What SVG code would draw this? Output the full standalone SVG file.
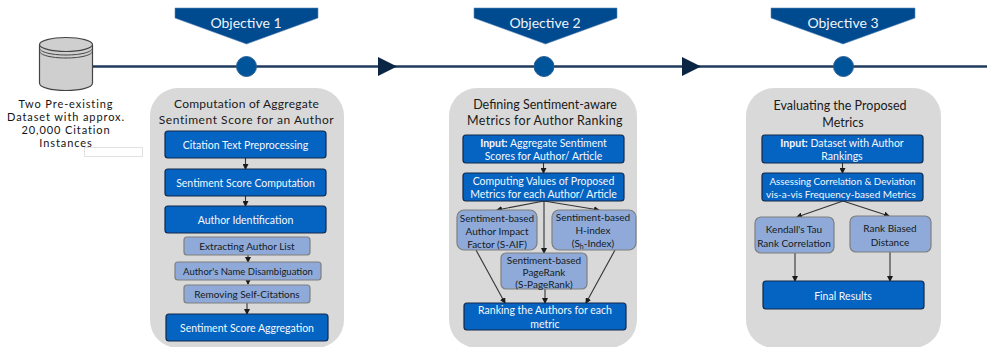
<svg xmlns="http://www.w3.org/2000/svg" width="987" height="347" viewBox="0 0 987 347">
<style>
text{font-family:"Lato","Open Sans","DejaVu Sans",sans-serif;text-anchor:middle}
.panel{fill:#d9d9d9}
.ptitle{font-size:12.500px;fill:#1a1a1a}
.main{fill:#0563c1;stroke:#12294a;stroke-width:1.200}
.sub{fill:#8faad8;stroke:#7f7f7f;stroke-width:1.200}
.mt{font-size:10.500px;fill:#f4f8ff}
.st{font-size:10px;fill:#141a24}
.ds{font-size:11px;letter-spacing:.9px;fill:#141414}
.obj{fill:#004a8f;stroke:#5a86b5;stroke-width:.6}
.objt{font-size:14px;fill:#eef4fb}
.dot{fill:#00549a;stroke:#2b5f94;stroke-width:1}
.tl{stroke:#1f3b5c;stroke-width:2.400;fill:none}
.tri{fill:#0b2545}
.c{stroke:#333;stroke-width:1.100;fill:none;marker-end:url(#a)}
</style>
<defs>
<marker id="a" markerUnits="userSpaceOnUse" markerWidth="6" markerHeight="6" refX="5" refY="3" orient="auto"><path d="M0 0L6 3L0 6Z" fill="#1a1a1a"/></marker>
</defs>
<g id="timeline">
<line class="tl" x1="93" y1="66.500" x2="987" y2="66.500"/>
<path class="tri" d="M378 57L397 66.500L378 76Z"/>
<path class="tri" d="M682 57L701 66.500L682 76Z"/>
</g>
<g id="dataset">
<path d="M39.500 45V83C39.500 87.500 51 90.500 66 90.500S92.500 87.500 92.500 83V45" fill="#cfcfcf" stroke="#444" stroke-width="1.200"/>
<ellipse cx="66" cy="44.500" rx="26.500" ry="7" fill="#cfcfcf" stroke="#444" stroke-width="1.200"/>
<path d="M39.500 48C39.500 52 51 55 66 55S92.500 52 92.500 48M39.500 51C39.500 55 51 58 66 58S92.500 55 92.500 51" fill="none" stroke="#444" stroke-width="1"/>
<text class="ds" x="66" y="108">Two Pre-existing</text>
<text class="ds" x="66" y="121">Dataset with approx.</text>
<text class="ds" x="66" y="134">20,000 Citation</text>
<text class="ds" x="66" y="147">Instances</text>
<rect x="84.500" y="147.500" width="58" height="9" fill="none" stroke="#e2e2e2" stroke-width="1"/>
</g>
<g id="objective1"><path class="obj" d="M175 8H318V18L246.500 44L175 18Z"/><text class="objt" x="246" y="28">Objective 1</text><circle class="dot" cx="246.500" cy="66.500" r="10"/></g>
<g id="objective2"><path class="obj" d="M474 8H617V18L545.500 44L474 18Z"/><text class="objt" x="545" y="28">Objective 2</text><circle class="dot" cx="544" cy="66.500" r="10"/></g>
<g id="objective3"><path class="obj" d="M771 8H915V18L843 44L771 18Z"/><text class="objt" x="843" y="28">Objective 3</text><circle class="dot" cx="843.500" cy="66.500" r="10"/></g>
<g id="panel1"><rect class="panel" x="150" y="88" width="194" height="260" rx="28"/><text class="ptitle" style="font-size:12px;letter-spacing:.25px" x="246.500" y="108">Computation of Aggregate</text><text class="ptitle" style="font-size:12px;letter-spacing:.55px" x="246.500" y="124">Sentiment Score for an Author</text></g>
<g id="panel2"><rect class="panel" x="449" y="88" width="188" height="260" rx="28"/><text class="ptitle" x="545" y="109">Defining Sentiment-aware</text><text class="ptitle" style="font-size:12.500px;letter-spacing:.3px" x="545" y="125">Metrics for Author Ranking</text></g>
<g id="panel3"><rect class="panel" x="746" y="88" width="195" height="260" rx="28"/><text class="ptitle" x="840" y="110">Evaluating the Proposed</text><text class="ptitle" x="843" y="127">Metrics</text></g>
<g id="connectors">
<path class="c" d="M245.500 158V169"/><path class="c" d="M245.500 196V206"/><path class="c" d="M248 255V262"/><path class="c" d="M248 280V284"/><path class="c" d="M247 303V314"/>
<path class="c" d="M543.500 163V173"/><path class="c" d="M544 201L497 210"/><path class="c" d="M544 201L599 210"/><path class="c" d="M544 201V253"/><path class="c" d="M476 250L505 303"/><path class="c" d="M545 289V303"/><path class="c" d="M615 250L586 303"/>
<path class="c" d="M842.500 163V173"/><path class="c" d="M843 201L797 217"/><path class="c" d="M843 201L889 216"/><path class="c" d="M795 253V281"/><path class="c" d="M890 252V281"/>
</g>
<g id="n1"><rect class="main" x="165" y="131" width="161" height="27" rx="3"/><text class="mt" x="245.500" y="149">Citation Text Preprocessing</text></g>
<g id="n2"><rect class="main" x="165" y="169" width="161" height="27" rx="3"/><text class="mt" x="245.500" y="187">Sentiment Score Computation</text></g>
<g id="n3"><rect class="main" x="165" y="206" width="161" height="27" rx="3"/><text class="mt" x="245.500" y="224">Author Identification</text></g>
<g id="n4"><rect class="sub" x="184" y="237" width="126" height="18" rx="3"/><text class="st" x="247" y="250">Extracting Author List</text></g>
<g id="n5"><rect class="sub" x="175" y="262" width="146" height="18" rx="3"/><text class="st" style="font-size:9.500px" x="248" y="275">Author's Name Disambiguation</text></g>
<g id="n6"><rect class="sub" x="184" y="285" width="126" height="18" rx="3"/><text class="st" x="247" y="298">Removing Self-Citations</text></g>
<g id="n7"><rect class="main" x="166" y="314" width="162" height="27" rx="3"/><text class="mt" x="247" y="332">Sentiment Score Aggregation</text></g>
<g id="m1"><rect class="main" x="463" y="135" width="161" height="28" rx="3"/><text class="mt" x="543.500" y="147"><tspan font-weight="700">Input:</tspan> Aggregate Sentiment</text><text class="mt" x="543.500" y="160">Scores for Author/ Article</text></g>
<g id="m2"><rect class="main" x="463" y="173" width="161" height="28" rx="3"/><text class="mt" x="543.500" y="185">Computing Values of Proposed</text><text class="mt" x="543.500" y="198">Metrics for each Author/ Article</text></g>
<g id="m3"><rect class="sub" x="457" y="210" width="80" height="40" rx="7"/><text class="st" x="497" y="222">Sentiment-based</text><text class="st" x="497" y="235">Author Impact</text><text class="st" x="497" y="248">Factor (S-AIF)</text></g>
<g id="m4"><rect class="sub" x="552" y="210" width="84" height="40" rx="7"/><text class="st" x="593" y="221">Sentiment-based</text><text class="st" x="593" y="234">H-index</text><text class="st" x="593" y="247">(S<tspan font-size="7" dy="2">h</tspan><tspan dy="-2">-Index)</tspan></text></g>
<g id="m5"><rect class="sub" x="501" y="253" width="86" height="36" rx="5"/><text class="st" x="544" y="264">Sentiment-based</text><text class="st" x="544" y="276">PageRank</text><text class="st" x="544" y="288">(S-PageRank)</text></g>
<g id="m6"><rect class="main" x="464" y="303" width="162" height="27" rx="3"/><text class="mt" x="545" y="314">Ranking the Authors for each</text><text class="mt" x="545" y="328">metric</text></g>
<g id="e1"><rect class="main" x="762" y="135" width="161" height="28" rx="3"/><text class="mt" x="842" y="147"><tspan font-weight="700">Input:</tspan> Dataset with Author</text><text class="mt" x="842" y="160">Rankings</text></g>
<g id="e2"><rect class="main" x="762" y="173" width="161" height="28" rx="3"/><text class="mt" style="font-size:9.800px" x="842.500" y="185">Assessing Correlation &amp; Deviation</text><text class="mt" style="font-size:10px" x="841" y="198">vis-a-vis Frequency-based Metrics</text></g>
<g id="e3"><rect class="sub" x="755" y="217" width="79" height="36" rx="6"/><text class="st" x="794" y="233">Kendall's Tau</text><text class="st" x="794" y="247">Rank Correlation</text></g>
<g id="e4"><rect class="sub" x="850" y="216" width="81" height="36" rx="6"/><text class="st" x="890" y="232">Rank Biased</text><text class="st" x="890" y="246">Distance</text></g>
<g id="e5"><rect class="main" x="763" y="281" width="161" height="28" rx="3"/><text class="mt" x="843" y="300">Final Results</text></g>
</svg>
